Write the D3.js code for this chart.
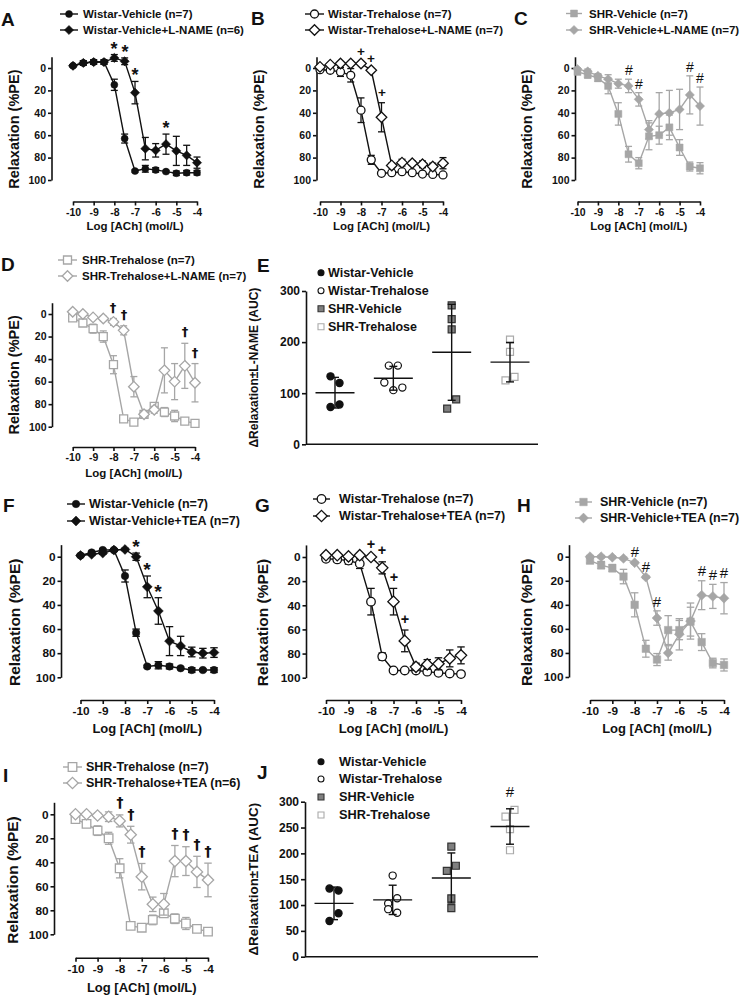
<!DOCTYPE html>
<html><head><meta charset="utf-8">
<script src="https://cdn.jsdelivr.net/npm/d3@7"></script>
<style>
body{margin:0;background:#fff}
svg{display:block}
text{font-family:"Liberation Sans",Arial,sans-serif;font-weight:bold;fill:#111}
</style>
</head><body>
<svg id="c" width="742" height="996"></svg>
<script>
// ---------------- DATA ----------------
const logACh = [-10,-9.5,-9,-8.5,-8,-7.5,-7,-6.5,-6,-5.5,-5,-4.5,-4];
const xTickVals = [-10,-9,-8,-7,-6,-5,-4];
const relaxTicks = [0,20,40,60,80,100];
const aucTicksE = [0,100,200,300];
const aucTicksJ = [0,50,100,150,200,250,300];
const groupNames = ["Wistar-Vehicle","Wistar-Trehalose","SHR-Vehicle","SHR-Trehalose"];

// Panel A
const aLabels = ["Wistar-Vehicle (n=7)","Wistar-Vehicle+L-NAME (n=6)"];
const aVehicle     = [-2,-4.5,-5.3,-5.3,15,63,92,90,91,92.5,94,93.5,93.5];
const aVehicleSem  = [1,2,2,2,5,4,1,3,2,1,2,2,2];
const aLname       = [-2,-4.5,-5.3,-5.3,-9,-6,22,72,73.5,68,74,78,84.5];
const aLnameSem    = [1,2,2,2,3,3,10,10,6,9,13,9,5];
const aSig = [-8,-7.5,-7,-5.5];
// Panel B
const bLabels = ["Wistar-Trehalose (n=7)","Wistar-Trehalose+L-NAME (n=7)"];
const bTrehalose    = [1.5,2,3.5,6.5,37.7,82,94,93.5,92.6,93.5,94.7,95,95.5];
const bTrehaloseSem = [1,2,4,6,11,4,1,1,1,1,1,1,1];
const bLname        = [-1,-3,-4,-4,-4,2,44,87,84.5,85,86,88,85];
const bLnameSem     = [1,1,1,1,1,1,13,2,3,2,3,3,5];
const bSig = [-8,-7.5,-7];
// Panel C
const cLabels = ["SHR-Vehicle (n=7)","SHR-Vehicle+L-NAME (n=7)"];
const cVehicle    = [3.5,6,9,16,41,77,85,61,60,53,71,88,89.5];
const cVehicleSem = [2,3,3,7,10,7,5,12,8,11,7,4,5];
const cLname      = [1,3,7,10,14,16,28,55,41,40,37,24,34];
const cLnameSem   = [1,2,2,4,4,6,6,8,19,20,18,17,17];
const cSig = [-7.5,-7,-4.5,-4];
// Panel D
const dLabels = ["SHR-Trehalose (n=7)","SHR-Trehalose+L-NAME (n=7)"];
const dTrehalose    = [3.5,8,13,20,45,93,96,89,82,87,90.5,95,97];
const dTrehaloseSem = [1,2,4,5,8,1,1,3,3,4,5,2,1];
const dLname        = [-2,0,3,4,7,14.5,64.5,89,85,50,60,46,61];
const dLnameSem     = [1,1,1,2,3,4,9,3,3,20,16,20,17];
const dSig = [-8,-7.5,-4.5,-4];
// Panel E (AUC, L-NAME)
const eWistarVehicle   = [133,120,73,78];
const eWistarTrehalose = [154,154,121,106,111];
const eShrVehicle      = [272,245,225,70,88];
const eShrTrehalose    = [205,181,125,132];
// Panel F
const fLabels = ["Wistar-Vehicle (n=7)","Wistar-Vehicle+TEA (n=7)"];
const fVehicle    = [-1,-3.5,-5.5,-5.5,16,63,91,90,91,92.5,94,94,94];
const fVehicleSem = [1,1,1,1,5,3,1,3,2,1,2,1,2];
const fTea        = [-1,-2,-3,-5.5,-6,0,25,45,70,74,79,80,79.5];
const fTeaSem     = [1,1,1,1,1,3,9,11,12,8,4,4,4];
const fSig = [-7.5,-7,-6.5];
// Panel G
const gLabels = ["Wistar-Trehalose (n=7)","Wistar-Trehalose+TEA (n=7)"];
const gTrehalose    = [1.5,2,3,5.5,37,82.5,94,94,94,95,96,96.5,97];
const gTrehaloseSem = [1,2,3,4,11,3,1,1,1,1,1,1,1];
const gTea          = [-1.5,-1.5,-0.5,-1.5,0,9,37,69.5,91,89,88.5,84,81.5];
const gTeaSem       = [1,1,1,1,1,5,11,9,3,4,5,7,7];
const gSig = [-8,-7.5,-7,-6.5];
// Panel H
const hLabels = ["SHR-Vehicle (n=7)","SHR-Vehicle+TEA (n=7)"];
const hVehicle    = [3.3,7,9.5,16.5,40,76.5,85.5,61,61,54,71,88.4,90];
const hVehicleSem = [2,3,3,6,10,7,5,12,8,12,7,4,5];
const hTea        = [0,0,0.5,1.4,5,17,51,80,64.5,53.5,32,33,34.5];
const hTeaSem     = [1,1,1,1,1,1,6,6,13,15,12,10,13];
const hSig = [-8,-7.5,-7,-5,-4.5,-4];
// Panel I
const iLabels = ["SHR-Trehalose (n=7)","SHR-Trehalose+TEA (n=6)"];
const iTrehalose    = [4,8,13.6,20,45,93,94.5,88,82.5,87,91,95.5,97.8];
const iTrehaloseSem = [1,1,4,5,8,1,1,4,3,4,5,2,1];
const iTea          = [0,0,1,2,5.5,17,52,75,75,39,39,48,54.7];
const iTeaSem       = [1,1,2,4,5,7,11,6,9,13,12,13,14];
const iSig = [-8,-7.5,-7,-5.5,-5,-4.5,-4];
// Panel J (AUC, TEA)
const jWistarVehicle   = [132,128,69,84];
const jWistarTrehalose = [157,103,113,92,85];
const jShrVehicle      = [213,166,176,113,94];
const jShrTrehalose    = [271,284,247,206];
const jSig = ["SHR-Trehalose"];

// ---------------- STYLE ----------------
const BLACK = "#111", GRAY = "#a6a6a6";
const FONT = '"Liberation Sans", Arial, sans-serif';
const svg = d3.select("#c");

function diamondPath(h){ return `M0,${-h}L${h},0L0,${h}L${-h},0Z`; }
function markerPath(shape, s){
  if (shape === "circle") return d3.symbol(d3.symbolCircle, Math.PI*(s/2)*(s/2))();
  if (shape === "square") return d3.symbol(d3.symbolSquare, s*s)();
  return diamondPath(s*0.66);
}
function markerSize(shape, open, k){
  let s = 7;
  if (open) s += 1;
  return s*k;
}
function styleAxis(a, fs){
  a.attr("font-family", null).attr("font-size", null);
  a.select(".domain").attr("stroke", BLACK).attr("stroke-width", 1.6);
  a.selectAll(".tick line").attr("stroke", BLACK).attr("stroke-width", 1.6);
  a.selectAll(".tick text").attr("fill", BLACK)
    .style("font-size", fs + "px").style("font-weight", "bold").style("font-family", FONT);
}
function txt(g, x, y, s, fs, opts = {}){
  return g.append("text").attr("x", x).attr("y", y).attr("dy", opts.dy || "0.35em")
    .attr("text-anchor", opts.anchor || "start")
    .style("font-size", fs + "px").style("font-weight", opts.weight || "bold")
    .attr("fill", BLACK).text(s);
}
function sigText(g, x, y, sym, st, k){
  const t = g.append("text").attr("x", Math.round(x)).attr("y", y)
    .attr("text-anchor", "middle").style("font-size", st.fs*k + "px").style("font-weight", st.weight)
    .attr("fill", BLACK).text(sym);
  if (st.family) t.style("font-family", st.family);
  return t;
}
const sigStyle = {
  "*": {fs: 18, gap: 0, weight: "bold"},
  "+": {fs: 13.5, gap: 6, weight: "bold"},
  "#": {fs: 14, gap: 4, weight: "normal"},
  "†": {fs: 13, gap: 7, weight: "bold", family: '"DejaVu Sans", sans-serif'}
};

function drawLinePanel(p){
  const L = p.layout, F = p.fonts, k = p.k;
  const g = svg.append("g");
  const y = d3.scaleLinear().domain([0,100]).range([L.y0, L.y100]);
  const yAx = d3.scaleLinear().domain([-10,100]).range([y(-10), y(100)]);
  const x = d3.scaleLinear().domain([-10,-4]).range([L.x0, L.x1]);

  const ya = g.append("g").attr("transform", `translate(${L.ax},0)`)
    .call(d3.axisLeft(yAx).tickValues(relaxTicks).tickSize(3.5).tickSizeOuter(0).tickPadding(2).tickFormat(d => String(d)));
  styleAxis(ya, F.tick);
  const xa = g.append("g").attr("transform", `translate(0,${L.xAxisY})`)
    .call(d3.axisBottom(x).tickValues(xTickVals).tickSize(4).tickSizeOuter(0).tickPadding(3).tickFormat(d => String(d)));
  styleAxis(xa, F.tick);

  txt(g, (L.x0 + L.x1)/2, L.titleY, "Log [ACh] (mol/L)", F.xtitle, {anchor: "middle"});
  const ytY = (y(-10) + L.xAxisY)/2;
  g.append("text").attr("transform", `translate(${L.ytX},${ytY}) rotate(-90)`)
    .attr("text-anchor", "middle").attr("dy", "0.35em")
    .style("font-size", F.ytitle + "px").attr("fill", BLACK).text("Relaxation (%PE)");
  txt(g, L.letterX, L.letterY, p.id, F.letter, {dy: 0});

  p.series.forEach(s => {
    const sg = g.append("g");
    const capW = 7*k;
    s.v.forEach((v, i) => {
      const e = s.e[i];
      if (!e) return;
      const cx = x(logACh[i]);
      sg.append("line").attr("x1", cx).attr("x2", cx).attr("y1", y(v - e)).attr("y2", y(v + e))
        .attr("stroke", s.color).attr("stroke-width", 1.3);
      [v - e, v + e].forEach(t => sg.append("line").attr("x1", cx - capW/2).attr("x2", cx + capW/2)
        .attr("y1", y(t)).attr("y2", y(t)).attr("stroke", s.color).attr("stroke-width", 1.3));
    });
    sg.append("path").attr("d", d3.line().x((d, i) => x(logACh[i])).y(d => y(d))(s.v))
      .attr("fill", "none").attr("stroke", s.color).attr("stroke-width", 1.4);
    const ms = markerSize(s.shape, s.open, k);
    s.v.forEach((v, i) => {
      sg.append("path").attr("d", markerPath(s.shape, ms))
        .attr("transform", `translate(${x(logACh[i])},${y(v)})`)
        .attr("fill", s.open ? "#fff" : s.color).attr("stroke", s.color).attr("stroke-width", s.open ? 1.3 : 0.5);
    });
  });

  // legend
  p.series.forEach((s, j) => {
    const ly = L.legY[j];
    g.append("line").attr("x1", L.legX1).attr("x2", L.legX2).attr("y1", ly).attr("y2", ly)
      .attr("stroke", s.color).attr("stroke-width", 1.4);
    g.append("path").attr("d", markerPath(s.shape, markerSize(s.shape, s.open, k)))
      .attr("transform", `translate(${(L.legX1 + L.legX2)/2},${ly})`)
      .attr("fill", s.open ? "#fff" : s.color).attr("stroke", s.color).attr("stroke-width", s.open ? 1.3 : 0.5);
    txt(g, L.legTX, ly, p.labels[j], F.legend);
  });

  // significance marks
  const st = sigStyle[p.sym];
  p.sig.forEach(at => {
    const i = logACh.indexOf(at);
    const top = d3.min(p.series, s => s.v[i] - s.e[i]);
    sigText(g, x(at), y(top) - st.gap*k, p.sym, st, k);
  });
}

function swarmOffsets(vals, y, thr, step){
  const idx = d3.range(vals.length).sort((a, b) => vals[b] - vals[a]);
  const clusters = []; let cur = null;
  idx.forEach(i => {
    if (cur && Math.abs(y(vals[i]) - y(vals[cur[0]])) < thr) cur.push(i);
    else { cur = [i]; clusters.push(cur); }
  });
  const off = vals.map(() => 0);
  clusters.forEach(c => { c.sort((a, b) => a - b); c.forEach((i, q) => off[i] = (q - (c.length - 1)/2)*step); });
  return off;
}

const groupStyle = [
  {shape: "circle", fill: BLACK, stroke: BLACK},
  {shape: "circle", fill: "#fff", stroke: BLACK},
  {shape: "square", fill: "#7f7f7f", stroke: "#333"},
  {shape: "square", fill: "#fff", stroke: "#aaa"}
];

function drawScatterPanel(p){
  const L = p.layout, F = p.fonts;
  const g = svg.append("g");
  const y = d3.scaleLinear().domain([0,300]).range([L.yBottom, L.yTop]);
  const x = d3.scalePoint().domain(groupNames).range([L.gx0, L.gx1]);
  const ya = g.append("g").attr("transform", `translate(${L.ax},0)`)
    .call(d3.axisLeft(y).tickValues(p.ticks).tickSize(4).tickSizeOuter(0).tickPadding(2).tickFormat(d => String(d)));
  styleAxis(ya, F.tick);
  g.append("line").attr("x1", L.ax).attr("x2", L.xEnd).attr("y1", L.yBottom).attr("y2", L.yBottom)
    .attr("stroke", BLACK).attr("stroke-width", 1.6);

  g.append("text").attr("transform", `translate(${L.ytX},${(L.yTop + L.yBottom)/2}) rotate(-90)`)
    .attr("text-anchor", "middle").attr("dy", "0.35em")
    .style("font-size", F.ytitle + "px").attr("fill", BLACK).text(p.ytitle);
  txt(g, L.letterX, L.letterY, p.id, F.letter, {dy: 0});

  p.groups.forEach((vals, gi) => {
    const gs = groupStyle[gi], cx = x(groupNames[gi]);
    const off = swarmOffsets(vals, y, 9.5, 9);
    vals.forEach((v, i) => {
      g.append("path").attr("d", markerPath(gs.shape, gs.shape === "circle" ? 7.2 : 7))
        .attr("transform", `translate(${cx + off[i]},${y(v)})`)
        .attr("fill", gs.fill).attr("stroke", gs.stroke).attr("stroke-width", 1.2);
    });
    const m = d3.mean(vals), sd = d3.deviation(vals);
    g.append("line").attr("x1", cx - 19.5).attr("x2", cx + 19.5).attr("y1", y(m)).attr("y2", y(m))
      .attr("stroke", BLACK).attr("stroke-width", 1.4);
    g.append("line").attr("x1", cx).attr("x2", cx).attr("y1", y(m - sd)).attr("y2", y(m + sd))
      .attr("stroke", BLACK).attr("stroke-width", 1.4);
    [m - sd, m + sd].forEach(t => g.append("line").attr("x1", cx - 4).attr("x2", cx + 4)
      .attr("y1", y(t)).attr("y2", y(t)).attr("stroke", BLACK).attr("stroke-width", 1.4));
    if (p.sig.includes(groupNames[gi])) sigText(g, cx, y(m + sd) - 12, "#", {fs: 15, weight: "normal"}, 1);
  });

  groupNames.forEach((name, gi) => {
    const gs = groupStyle[gi], ly = L.legY[gi];
    g.append("path").attr("d", markerPath(gs.shape, 6))
      .attr("transform", `translate(${L.legMX},${ly})`)
      .attr("fill", gs.fill).attr("stroke", gs.stroke).attr("stroke-width", 1.1);
    txt(g, L.legTX, ly, name, F.legend);
  });
}

// ---------------- PANELS ----------------
const topFonts = {tick: 10.5, xtitle: 11.5, ytitle: 14.5, legend: 11.5, letter: 19};
const botFonts = {tick: 11.8, xtitle: 13, ytitle: 15.5, legend: 12.5, letter: 19};

const ser = (v, e, color, shape, open) => ({v, e, color, shape, open});

drawLinePanel({id: "A", k: 1, fonts: topFonts, labels: aLabels, sym: "*", sig: aSig,
  series: [ser(aVehicle, aVehicleSem, BLACK, "circle", false), ser(aLname, aLnameSem, BLACK, "diamond", false)],
  layout: {ax: 51.5, y0: 68, y100: 180, x0: 73, x1: 197, xAxisY: 201.5, titleY: 226, ytX: 14,
    legX1: 60, legX2: 78, legTX: 83, legY: [14, 30], letterX: 1, letterY: 19}});
drawLinePanel({id: "B", k: 1, fonts: topFonts, labels: bLabels, sym: "+", sig: bSig,
  series: [ser(bTrehalose, bTrehaloseSem, BLACK, "circle", true), ser(bLname, bLnameSem, BLACK, "diamond", true)],
  layout: {ax: 316.5, y0: 68, y100: 180, x0: 320, x1: 443, xAxisY: 201.5, titleY: 226, ytX: 259,
    legX1: 305, legX2: 324, legTX: 328, legY: [14, 30], letterX: 251, letterY: 18}});
drawLinePanel({id: "C", k: 1, fonts: topFonts, labels: cLabels, sym: "#", sig: cSig,
  series: [ser(cVehicle, cVehicleSem, GRAY, "square", false), ser(cLname, cLnameSem, GRAY, "diamond", false)],
  layout: {ax: 575, y0: 68, y100: 180, x0: 577.5, x1: 700, xAxisY: 201.5, titleY: 226, ytX: 527,
    legX1: 566, legX2: 582, legTX: 589, legY: [13.5, 30], letterX: 514, letterY: 18}});
drawLinePanel({id: "D", k: 1, fonts: topFonts, labels: dLabels, sym: "†", sig: dSig,
  series: [ser(dTrehalose, dTrehaloseSem, GRAY, "square", true), ser(dLname, dLnameSem, GRAY, "diamond", true)],
  layout: {ax: 52, y0: 314, y100: 426.7, x0: 72.7, x1: 195, xAxisY: 447, titleY: 473, ytX: 14,
    legX1: 58, legX2: 77, legTX: 82, legY: [260, 276], letterX: 1, letterY: 264}});
drawScatterPanel({id: "E", fonts: {tick: 12, ytitle: 12, legend: 12.5, letter: 19}, ticks: aucTicksE,
  ytitle: "\u0394Relaxation\u00b1L-NAME (AUC)", sig: [],
  groups: [eWistarVehicle, eWistarTrehalose, eShrVehicle, eShrTrehalose],
  layout: {ax: 306, yBottom: 444.3, yTop: 291, xEnd: 538, gx0: 335, gx1: 510, ytX: 254,
    legMX: 321, legTX: 328, legY: [272.7, 290.7, 308.7, 326.7], letterX: 257, letterY: 265}});
drawLinePanel({id: "F", k: 1.07, fonts: botFonts, labels: fLabels, sym: "*", sig: fSig,
  series: [ser(fVehicle, fVehicleSem, BLACK, "circle", false), ser(fTea, fTeaSem, BLACK, "diamond", false)],
  layout: {ax: 61, y0: 556.7, y100: 677.3, x0: 80.5, x1: 214, xAxisY: 700, titleY: 728, ytX: 15,
    legX1: 67, legX2: 85, legTX: 89, legY: [504, 521], letterX: 3, letterY: 505}});
drawLinePanel({id: "G", k: 1.07, fonts: botFonts, labels: gLabels, sym: "+", sig: gSig,
  series: [ser(gTrehalose, gTrehaloseSem, BLACK, "circle", true), ser(gTea, gTeaSem, BLACK, "diamond", true)],
  layout: {ax: 306, y0: 557, y100: 677.7, x0: 326, x1: 461, xAxisY: 700, titleY: 728, ytX: 263,
    legX1: 313, legX2: 330, legTX: 339, legY: [499, 516], letterX: 255, letterY: 505}});
drawLinePanel({id: "H", k: 1.07, fonts: botFonts, labels: hLabels, sym: "#", sig: hSig,
  series: [ser(hVehicle, hVehicleSem, GRAY, "square", false), ser(hTea, hTeaSem, GRAY, "diamond", false)],
  layout: {ax: 569, y0: 556.7, y100: 677, x0: 590, x1: 724, xAxisY: 700, titleY: 728, ytX: 527,
    legX1: 575, legX2: 592, legTX: 600, legY: [502, 518], letterX: 517, letterY: 505}});
drawLinePanel({id: "I", k: 1.07, fonts: botFonts, labels: iLabels, sym: "†", sig: iSig,
  series: [ser(iTrehalose, iTrehaloseSem, GRAY, "square", true), ser(iTea, iTeaSem, GRAY, "diamond", true)],
  layout: {ax: 54, y0: 814.3, y100: 934.3, x0: 75.5, x1: 208, xAxisY: 957.7, titleY: 987, ytX: 13,
    legX1: 63, legX2: 82, legTX: 86, legY: [767, 783], letterX: 3, letterY: 775}});
drawScatterPanel({id: "J", fonts: {tick: 12, ytitle: 13.4, legend: 12.8, letter: 19}, ticks: aucTicksJ,
  ytitle: "\u0394Relaxation\u00b1TEA (AUC)", sig: jSig,
  groups: [jWistarVehicle, jWistarTrehalose, jShrVehicle, jShrTrehalose],
  layout: {ax: 305, yBottom: 956.7, yTop: 801.7, xEnd: 538, gx0: 334, gx1: 510, ytX: 253,
    legMX: 321, legTX: 339, legY: [761.7, 779, 797, 815], letterX: 257, letterY: 772}});
</script>
</body></html>
